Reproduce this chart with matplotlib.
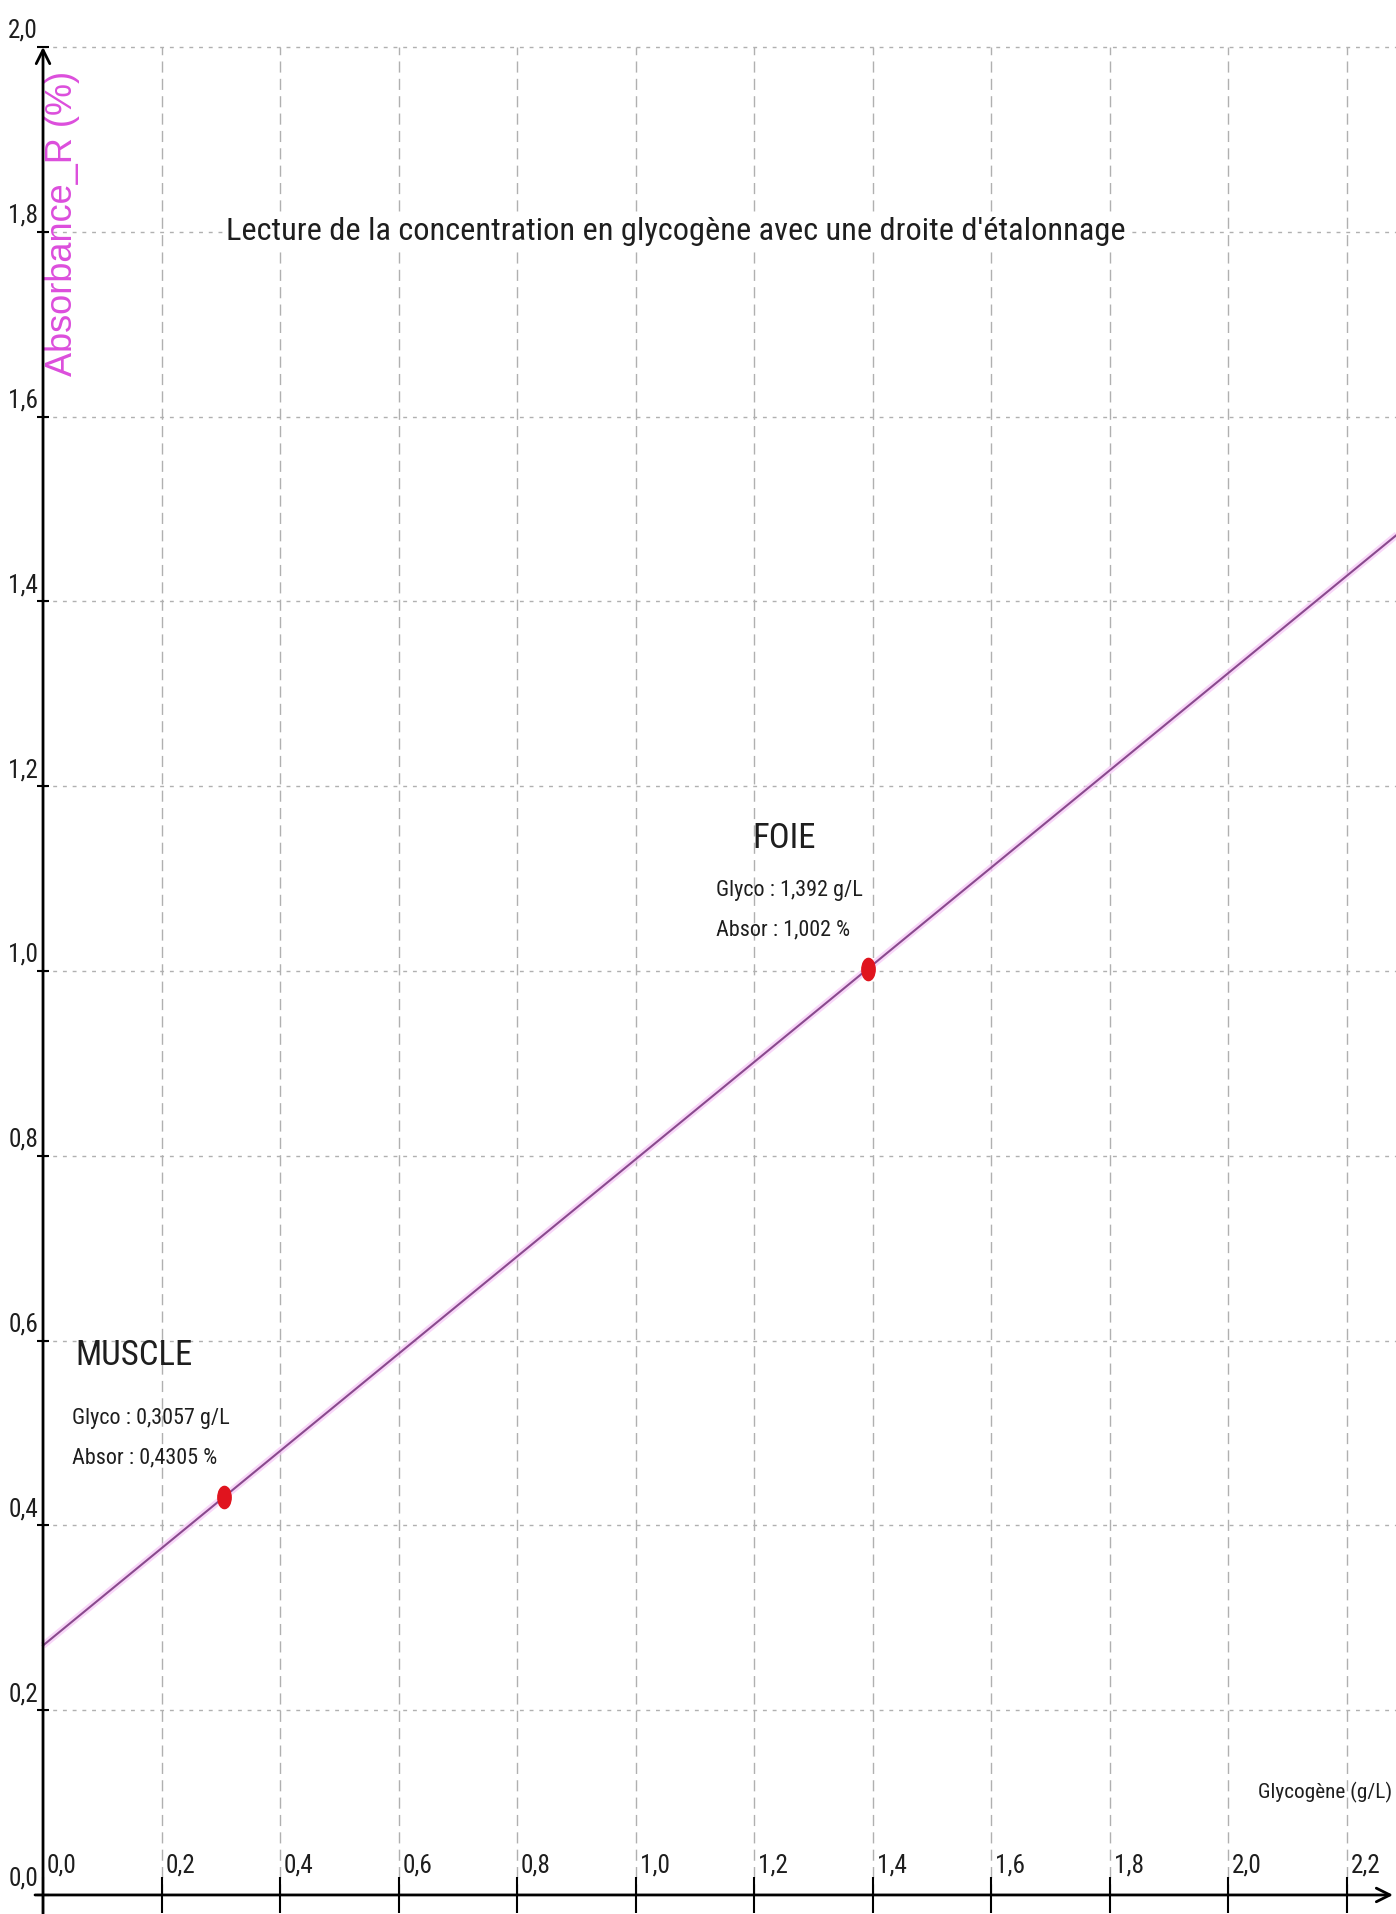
import matplotlib
matplotlib.use("Agg")
import matplotlib.pyplot as plt
import matplotlib.transforms as mtransforms
from matplotlib import font_manager
from matplotlib.path import Path

# axis ticks and their French-style labels
x_ticks = [0.0, 0.2, 0.4, 0.6, 0.8, 1.0, 1.2, 1.4, 1.6, 1.8, 2.0, 2.2]
x_tick_labels = ['0,0', '0,2', '0,4', '0,6', '0,8', '1,0', '1,2', '1,4', '1,6', '1,8', '2,0', '2,2']
y_ticks = [0.0, 0.2, 0.4, 0.6, 0.8, 1.0, 1.2, 1.4, 1.6, 1.8, 2.0]
y_tick_labels = ['0,0', '0,2', '0,4', '0,6', '0,8', '1,0', '1,2', '1,4', '1,6', '1,8', '2,0']

# calibration line (glycogen g/L -> absorbance %)
line_x = [0.0, 2.3]
line_y = [0.27, 1.48]

# measured samples
samples = ['MUSCLE', 'FOIE']
glyco = [0.3057, 1.392]
absor = [0.4305, 1.002]


def pick_narrow():
    # prefer a narrow sans if one is installed, otherwise plain Liberation Sans
    have = {f.name for f in font_manager.fontManager.ttflist}
    for name, ratio in [('Liberation Sans Narrow', 0.82), ('Roboto Condensed', 0.88),
                        ('Open Sans Condensed', 0.85), ('Noto Sans Condensed', 0.85)]:
        if name in have:
            return name, ratio
    return 'Liberation Sans', 1.0


font_name, ratio = pick_narrow()
k = 1.0 / ratio
plt.rcParams['font.family'] = [font_name, 'DejaVu Sans']

fig = plt.figure(figsize=(13.96, 19.15), dpi=100)
ax = fig.add_axes([0, 0, 1, 1])
ax.set_xlim(-0.0726, 2.2835)
ax.set_ylim(-0.0206, 2.0519)

for s in ax.spines.values():
    s.set_visible(False)
ax.spines['left'].set_position(('data', 0))
ax.spines['bottom'].set_position(('data', 0))
ax.set_xticks(x_ticks)
ax.set_yticks(y_ticks)
ax.tick_params(axis='x', direction='inout', length=26, width=1.5, color='black',
               labelbottom=False)
ax.tick_params(axis='y', direction='inout', length=9, width=1.5, color='black',
               labelleft=False)

# grid: long dashes vertically, short dots horizontally
grid_c = '#b0b0b0'
ax.vlines(x_ticks[1:], 0, y_ticks[-1], colors=grid_c, lw=1.0, linestyles=(0, (8, 4.5)), zorder=1)
ax.hlines(y_ticks[1:], 0, ax.get_xlim()[1], colors=grid_c, lw=1.0, linestyles=(0, (2.8, 4.2)), zorder=1)

# axes drawn as arrows
arrow_kw = dict(arrowstyle='->,head_length=0.7,head_width=0.35', lw=2, color='black',
                mutation_scale=14, shrinkA=0, shrinkB=0)
ax.annotate('', xy=(2.2785, 0), xytext=(-0.0135, 0), arrowprops=arrow_kw, zorder=5)
ax.annotate('', xy=(0, 2.0), xytext=(0, -0.0206), arrowprops=arrow_kw, zorder=5)


def shifted(dx, dy):
    return mtransforms.offset_copy(ax.transData, fig, x=dx, y=dy, units='dots')


# tick labels placed next to the ticks
txt_c = '#1e1e1e'
for xv, lab in zip(x_ticks, x_tick_labels):
    ax.text(xv, 0, lab, transform=shifted(4, 18), ha='left', va='bottom',
            fontsize=16 * k, color=txt_c)
for yv, lab in zip(y_ticks, y_tick_labels):
    ax.text(0, yv, lab, transform=shifted(-5, 5), ha='right', va='bottom',
            fontsize=16 * k, color=txt_c)

ax.text(2.2835, 0.1115, 'Glycogène (g/L)', transform=shifted(-4, 0),
        ha='right', va='center', fontsize=13.5 * k, color=txt_c)
ax.text(0.033, 1.81, 'Absorbance_R (%)', rotation=90, ha='center', va='center',
        fontsize=26, color='#dc4edc', family=['Liberation Sans', 'DejaVu Sans'])

ax.text(0.309, 1.801, "Lecture de la concentration en glycogène avec une droite d'étalonnage",
        ha='left', va='center', fontsize=20.5 * k, color=txt_c,
        bbox=dict(facecolor='white', edgecolor='none', pad=1), zorder=3)

# calibration line with its soft pink halo
ax.plot(line_x, line_y, color='#f6c6f6', lw=5.0, alpha=0.7, zorder=2, solid_capstyle='butt')
ax.plot(line_x, line_y, color='#8a4a8e', lw=1.5, zorder=3)

# sample points with their readings
dot = Path.unit_circle().transformed(mtransforms.Affine2D().scale(0.6, 1.0))
ax.plot(glyco, absor, linestyle='none', marker=dot, markersize=16, color='#e0141e', zorder=4)
name_offsets = [(-90, 143), (-84, 132)]
for name, g, a, (ndx, ndy) in zip(samples, glyco, absor, name_offsets):
    ax.text(g, a, name, transform=shifted(ndx, ndy),
            ha='center', va='center', fontsize=22 * k, color=txt_c)
    ax.text(g, a, f'Glyco : {g} g/L'.replace('.', ','), transform=shifted(-152, 80),
            ha='left', va='center', fontsize=14 * k, color=txt_c)
    ax.text(g, a, f'Absor : {a} %'.replace('.', ','), transform=shifted(-152, 40),
            ha='left', va='center', fontsize=14 * k, color=txt_c)

fig.savefig('out.png', dpi=100, facecolor='white')
